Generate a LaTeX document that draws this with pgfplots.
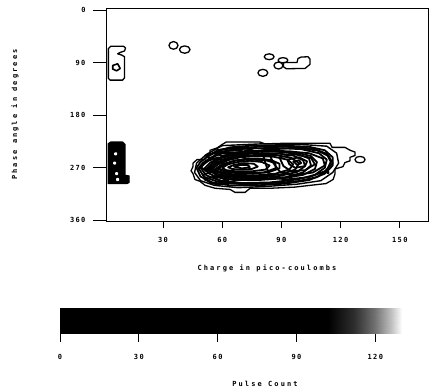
\documentclass[border=0pt]{standalone}
\usepackage{fontspec}
\usepackage{pgfplots}
\pgfplotsset{compat=1.18}
\newfontfamily\tickf[LetterSpace=20]{DejaVu Sans Mono}
\newfontfamily\labf[LetterSpace=30]{DejaVu Sans Mono}
\begin{document}
\begin{tikzpicture}
\useasboundingbox (0,0) rectangle (441pt,-391pt);
% main axis (box, y ticks, labels, data)
\begin{axis}[
  scale only axis, width=322pt, height=213pt,
  at={(106pt,-8pt)}, anchor=north west,
  xmin=1.1, xmax=164.3, ymin=-3.4, ymax=361, y dir=reverse,
  xtick=\empty, ytick={0,90,180,270,360},
  tick align=outside, tick pos=left, major tick length=13pt,
  tick style={line width=0.9pt, black},
  axis line style={line width=0.9pt},
  /pgf/number format/assume math mode=true,
  tick label style={font=\tickf\fontsize{7}{8}\bfseries},
  yticklabel style={xshift=-4pt},
  label style={font=\labf\fontsize{7}{8}\bfseries},
  xlabel={Charge in pico-coulombs}, ylabel={Phase angle in degrees},
  xlabel style={at={(axis description cs:0.5,-0.2207)}, anchor=center},
  ylabel style={at={(axis description cs:-0.2826,0.5)}, anchor=center},
  every axis plot/.append style={line width=1.8pt, black, line join=round},
]
% main cluster outer contour
\addplot[line width=1.3pt] coordinates {(45.2,268) (45.2,262) (47.2,256) (51.3,256) (51.3,249) (53.8,245) (53.8,240) (57.4,236) (60,230) (62,226) (79.2,226) (81.7,229) (91.8,228) (114.6,228) (115.7,235) (122.2,235) (124.8,240) (127.3,243) (127.3,249) (124.8,252) (124.8,258) (122.2,261) (121.2,268) (117.2,272) (117.2,280) (116.2,290) (112.6,297) (104.5,300) (96.9,303) (84.2,305) (74.1,305) (71.6,312) (66.5,312) (64,307) (56.4,305) (51.3,300) (48.7,293) (46.2,290) (45.2,280) (44.2,275)} -- cycle;
\addplot[line width=1.3pt] coordinates {(127.3,256) (128,252) (129.8,250.5) (131.7,252) (132.4,256) (131.7,260) (129.8,261.5) (128,260)} -- cycle;
\addplot[line width=1.4pt] coordinates {(52,247) (60,232) (80,229) (100,230) (113,233) (118,245) (119,262) (116,278) (110,292) (98,298) (82,302) (68,304) (56,300) (49,292) (46,278) (47,262)} -- cycle;
\addplot[] coordinates {(47,270) (49,260) (53,250) (58,241) (64,235) (75,232) (90,232) (104,234) (112,240) (116,252) (116,266) (112,280) (104,291) (92,297) (78,300) (64,300) (55,295) (49,285)} -- cycle;
\addplot[] coordinates {(48,271) (50,262) (54,253) (59,244) (66,238) (78,234) (93,234) (106,237) (113,246) (115,260) (113,274) (108,286) (98,293) (84,297) (70,298) (58,294) (51,286)} -- cycle;
\addplot[] coordinates {(49,270) (52,259) (57,249) (63,241) (72,237) (86,236) (100,238) (109,245) (113,256) (112,270) (107,282) (98,290) (84,295) (70,296) (59,292) (52,283)} -- cycle;
\addplot[] coordinates {(51,271) (54,261) (59,252) (65,245) (74,241) (86,240) (97,243) (105,250) (108,260) (107,272) (101,282) (91,288) (78,291) (66,291) (57,286) (53,279)} -- cycle;
\addplot[] coordinates {(52,272) (55,262) (60,253) (66,247) (75,243) (87,242) (98,246) (104,254) (105,266) (101,278) (92,286) (79,289) (67,289) (58,284)} -- cycle;
\addplot[] coordinates {(53,272) (56,263) (61,255) (67,249) (76,245) (87,245) (96,249) (101,257) (102,267) (98,277) (89,284) (77,287) (66,286) (58,281)} -- cycle;
\addplot[] coordinates {(54,272) (57,263) (62,256) (68,250) (77,248) (87,248) (95,253) (99,262) (97,273) (90,281) (78,285) (66,284) (59,279)} -- cycle;
\addplot[] coordinates {(55,272) (58,264) (63,257) (69,252) (77,250) (86,251) (93,256) (96,264) (94,273) (87,280) (77,283) (67,282) (60,278)} -- cycle;
\addplot[] coordinates {(57,271) (60,264) (65,259) (71,255) (78,254) (85,257) (89,263) (89,271) (84,277) (76,280) (67,279) (61,276)} -- cycle;
\addplot[] coordinates {(58,271) (62,263) (67,257) (74,256) (82,257) (87,262) (87,271) (81,278) (72,279) (63,277)} -- cycle;
\addplot[] coordinates {(60,270) (63,264) (68,260) (74,258) (80,260) (84,266) (82,273) (75,276) (67,276) (62,274)} -- cycle;
\addplot[] coordinates {(63,269) (66,265) (71,262) (76,263) (78,268) (75,272) (69,273) (65,272)} -- cycle;
\addplot[] coordinates {(66,268) (69,265) (73,265) (74,269) (70,271)} -- cycle;
\addplot[] coordinates {(52,250) (58,240) (66,236) (75,238) (72,246) (62,250) (56,256)} -- cycle;
\addplot[] coordinates {(56,246) (62,241) (70,240) (68,246) (60,249)} -- cycle;
\addplot[] coordinates {(57,240) (66,235) (76,236) (70,243) (61,245)} -- cycle;
\addplot[] coordinates {(49,268) (53,258) (58,252) (61,262) (57,272) (52,276)} -- cycle;
\addplot[] coordinates {(50,282) (56,276) (64,280) (68,290) (62,298) (54,296)} -- cycle;
\addplot[] coordinates {(51,290) (57,284) (63,292) (58,300)} -- cycle;
\addplot[] coordinates {(55,286) (60,282) (64,288) (60,293)} -- cycle;
\addplot[] coordinates {(80,240) (95,236) (108,240) (114,250) (116,262) (112,276) (104,286) (92,290) (84,285)} -- cycle;
\addplot[] coordinates {(84,248) (94,242) (104,245) (111,254) (112,266) (106,278) (96,283) (89,276) (86,262)} -- cycle;
\addplot[] coordinates {(89,252) (97,247) (105,253) (107,264) (102,274) (95,276) (91,267)} -- cycle;
\addplot[] coordinates {(93,256) (99,252) (103,259) (102,267) (97,270) (94,264)} -- cycle;
\addplot[] coordinates {(96,259) (99,257) (100,262) (98,265)} -- cycle;
\addplot[only marks, mark=*, mark size=0.8pt] coordinates {(113.6,278)};
% top-left contour
\addplot[line width=1.3pt] coordinates {(2.3,66) (3.5,62) (10,62) (11,65) (10.5,70) (8,73) (7,75) (9,77) (10.5,80) (10.5,116) (9.5,120) (3.2,120) (2.3,117)} -- cycle;
\addplot[line width=1.6pt] coordinates {(4.5,95) (7,92) (8.3,100) (6.5,104) (4.5,101)} -- cycle;
% bottom-left filled block
\addplot[fill=black, line width=1.3pt] coordinates {(2.2,229) (3.5,226) (9.5,226) (10.7,230) (10.7,283) (12.8,284) (12.8,295) (11.5,297) (2.2,297)} -- cycle;
\addplot[only marks, mark=*, white, mark size=0.9pt] coordinates {(6,246) (5.5,262) (6.5,280) (7,290)};
% two loops near (38,65)
\addplot[line width=1.3pt] coordinates {(33,60.6) (33.7,56) (35.3,54) (36.9,56) (37.6,60.6) (36.9,65.2) (35.3,67.1) (33.7,65.2)} -- cycle;
\addplot[line width=1.3pt] coordinates {(38.3,67.7) (39.1,63.3) (41,61.4) (42.9,63.3) (43.7,67.7) (42.9,72.1) (41,74) (39.1,72.1)} -- cycle;
% blobs near (90,90)
\addplot[line width=1.3pt] coordinates {(81.3,80) (82,76.5) (83.8,75) (85.6,76.5) (86.3,80) (85.6,83.5) (83.8,85) (82,83.5)} -- cycle;
\addplot[line width=1.3pt] coordinates {(78.1,107.5) (78.8,103.3) (80.6,101.5) (82.4,103.3) (83.1,107.5) (82.4,111.7) (80.6,113.5) (78.8,111.7)} -- cycle;
\addplot[line width=1.3pt] coordinates {(86.2,95) (86.9,90.8) (88.5,89) (90.1,90.8) (90.8,95) (90.1,99.2) (88.5,101) (86.9,99.2)} -- cycle;
\addplot[line width=1.3pt] coordinates {(88.3,86) (89,82.8) (90.8,81.5) (92.6,82.8) (93.3,86) (92.6,89.2) (90.8,90.5) (89,89.2)} -- cycle;
\addplot[line width=1.3pt] coordinates {(91,90) (97.9,90) (98.4,83) (100,80.5) (103.5,80) (104.5,84) (104.5,93) (102,100) (92.5,100.5) (91,97)} -- cycle;
\end{axis}
% overlay axis for x ticks (shorter ticks)
\begin{axis}[
  scale only axis, width=322pt, height=213pt,
  at={(106pt,-8pt)}, anchor=north west,
  xmin=1.1, xmax=164.3, ymin=-3.4, ymax=361, y dir=reverse,
  xtick={30,60,90,120,150}, ytick=\empty,
  tick align=outside, tick pos=left, major tick length=7pt,
  tick style={line width=0.9pt, black},
  axis line style={draw=none},
  /pgf/number format/assume math mode=true,
  tick label style={font=\tickf\fontsize{7}{8}\bfseries},
  xticklabel style={yshift=-6pt},
]
\end{axis}
% pulse count bar
\begin{axis}[
  scale only axis, width=381pt, height=25pt,
  at={(60pt,-308pt)}, anchor=north west,
  xmin=0, xmax=145, ymin=0, ymax=1,
  ytick=\empty, xtick={0,30,60,90,120},
  tick align=outside, tick pos=left, major tick length=9pt,
  tick style={line width=0.9pt, black},
  axis line style={line width=0.6pt},
  /pgf/number format/assume math mode=true,
  tick label style={font=\tickf\fontsize{7}{8}\bfseries},
  xticklabel style={yshift=-9pt},
  label style={font=\labf\fontsize{7}{8}\bfseries},
  xlabel={Pulse Count},
  xlabel style={at={(axis description cs:0.538,-2.04)}, anchor=center},
  colormap={pc}{color(0pt)=(black); color(102pt)=(black); color(112pt)=(black!82); color(120pt)=(black!55); color(126pt)=(black!25); color(130pt)=(white); color(145pt)=(white)},
  point meta min=0, point meta max=145,
]
\addplot[surf, shader=interp, point meta=x, mesh/cols=9] coordinates {
(0,0) (102,0) (107,0) (112,0) (116,0) (120,0) (126,0) (130,0) (145,0)
(0,1) (102,1) (107,1) (112,1) (116,1) (120,1) (126,1) (130,1) (145,1)};
\end{axis}
\end{tikzpicture}
\end{document}
